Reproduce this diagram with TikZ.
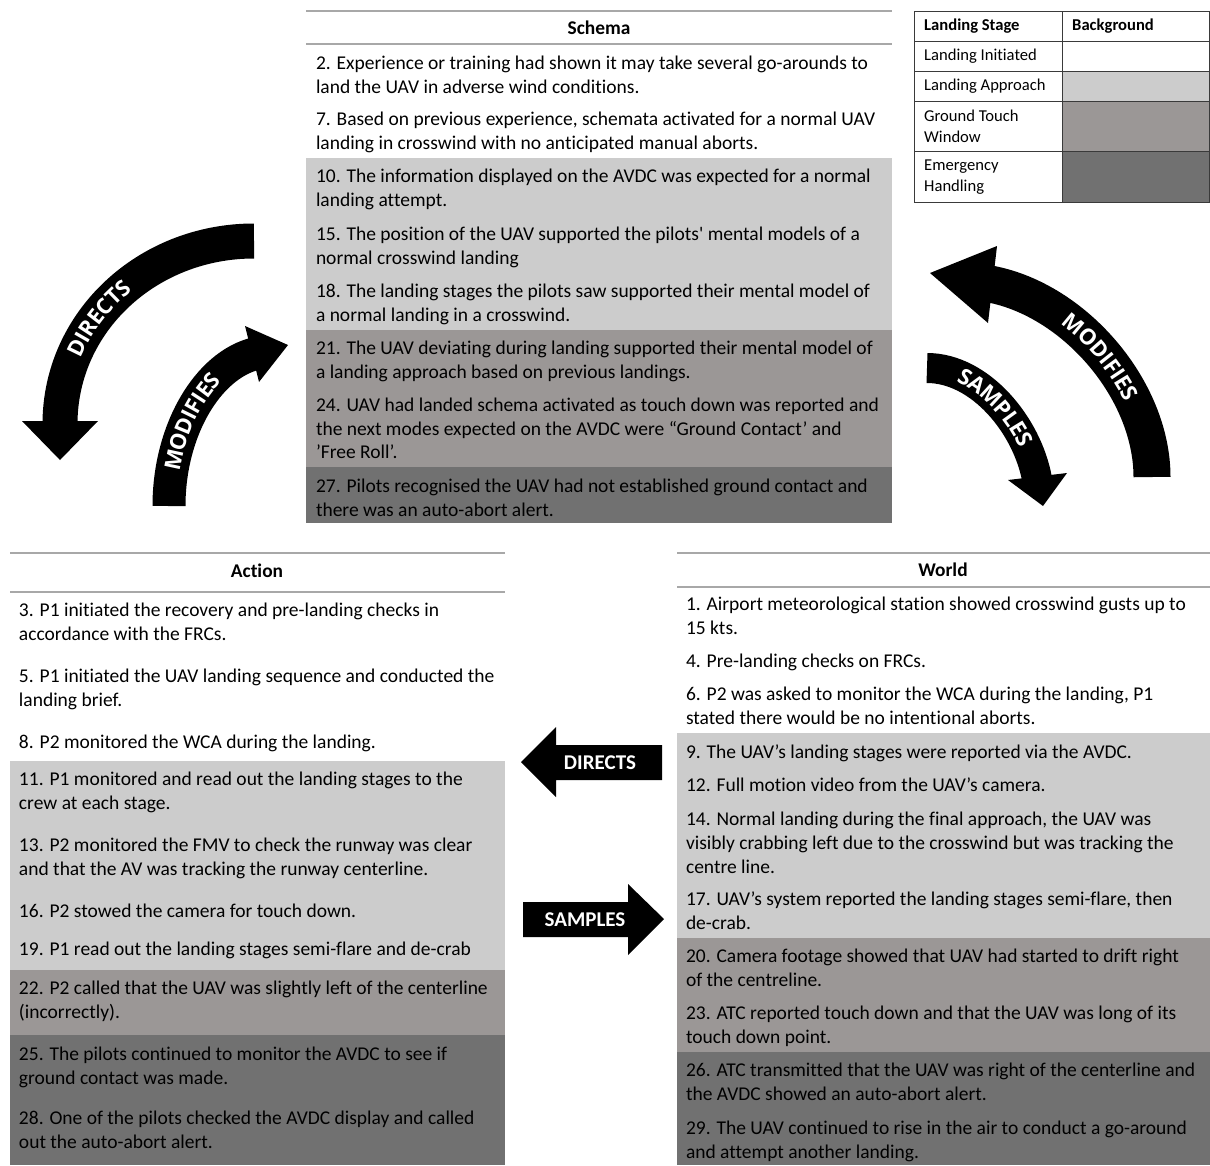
\documentclass[tikz,border=0pt]{standalone}
\usepackage{fontspec}
\setmainfont{Carlito}[Ligatures={TeX,NoCommon}]
\newfontfamily\arrowfont{Open Sans}
\usetikzlibrary{decorations.text}

\definecolor{stageA}{HTML}{CCCCCC}
\definecolor{stageB}{HTML}{9B9796}
\definecolor{stageC}{HTML}{717171}
\definecolor{rulegray}{HTML}{A8A8A8}
\definecolor{legendline}{HTML}{3A3A3A}

% white lettering on the curved arrows
\newcommand\curvefont{\color{white}\arrowfont\bfseries\fontsize{22}{22}\selectfont}
% one numbered statement of a panel
\newcommand\stagetext[4]{\node[para] (#1) at (#2,#3) {\strut#4};}

\begin{document}
\begin{tikzpicture}[x=1pt,y=-1pt,
  para/.style={anchor=north west, inner sep=0pt, outer sep=0pt, align=left,
    yshift=9pt, font=\fontsize{19.5}{23.7}\selectfont, text=black},
  panelhead/.style={inner sep=0pt, font=\bfseries\fontsize{19.4}{23.7}\selectfont},
  legtext/.style={anchor=west, inner sep=0pt, align=left,
    font=\fontsize{16.6}{20.8}\selectfont},
  leghead/.style={legtext, font=\bfseries\fontsize{16.6}{20.8}\selectfont},
  panelrule/.style={draw=rulegray, line width=1.5pt},
  shaft/.style={draw=black, line cap=butt},
  blocklabel/.style={inner sep=0pt, text=white, font=\bfseries\fontsize{21}{21}\selectfont},
  curvelabel/.style={decorate, decoration={text along path, raise=-7.8pt}},
]
\useasboundingbox (0,0) rectangle (1210,1165);
\fill[white] (0,0) rectangle (1210,1165);

% ---------------- Schema panel ----------------
\fill[stageA] (306,158) rectangle (892,330);
\fill[stageB] (306,330) rectangle (892,467);
\fill[stageC] (306,467) rectangle (892,523);
\draw[panelrule] (306,11) -- (892,11);
\draw[panelrule] (306,44) -- (892,44);
\node[panelhead] (schemahead) at (599,28) {Schema};
\stagetext{s2}{316}{62}{2. Experience or training had shown it may take several go-arounds to\\land the UAV in adverse wind conditions.}
\stagetext{s7}{316}{118}{7. Based on previous experience, schemata activated for a normal UAV\\landing in crosswind with no anticipated manual aborts.}
\stagetext{s10}{316}{175}{10. The information displayed on the AVDC was expected for a normal\\landing attempt.}
\stagetext{s15}{316}{233}{15. The position of the UAV supported the pilots\textquotesingle{} mental models of a\\normal crosswind landing}
\stagetext{s18}{316}{290}{18. The landing stages the pilots saw supported their mental model of\\a normal landing in a crosswind.}
\stagetext{s21}{316}{347}{21. The UAV deviating during landing supported their mental model of\\a landing approach based on previous landings.}
\stagetext{s24}{316}{404}{24. UAV had landed schema activated as touch down was reported and\\the next modes expected on the AVDC were “Ground Contact’ and\\’Free Roll’.}
\stagetext{s27}{316}{485}{27. Pilots recognised the UAV had not established ground contact and\\there was an auto-abort alert.}

% ---------------- Legend ----------------
\fill[stageA] (1062,71) rectangle (1209,101);
\fill[stageB] (1062,101) rectangle (1209,151);
\fill[stageC] (1062,151) rectangle (1209,202);
\draw[legendline, line width=1pt] (914,11) rectangle (1209,202);
\foreach \yy in {41,71,101,151} \draw[legendline, line width=1pt] (914,\yy) -- (1209,\yy);
\draw[legendline, line width=1pt] (1062,11) -- (1062,202);
\node[leghead] (legstage) at (924,26) {Landing Stage};
\node[leghead] (legback) at (1072,26) {Background};
\node[legtext] (leginit) at (924,56) {Landing Initiated};
\node[legtext] (legappr) at (924,86) {Landing Approach};
\node[legtext] (legtouch) at (924,126) {Ground Touch\\Window};
\node[legtext] (legemerg) at (924,177) {Emergency\\Handling};

% ---------------- Action panel ----------------
\fill[stageA] (10,761) rectangle (505,970);
\fill[stageB] (10,970) rectangle (505,1035);
\fill[stageC] (10,1035) rectangle (505,1165);
\draw[panelrule] (10,553) -- (505,553);
\draw[panelrule] (10,592) -- (505,592);
\node[panelhead] (actionhead) at (257,571) {Action};
\stagetext{a3}{19}{609}{3. P1 initiated the recovery and pre-landing checks in\\accordance with the FRCs.}
\stagetext{a5}{19}{675}{5. P1 initiated the UAV landing sequence and conducted the\\landing brief.}
\stagetext{a8}{19}{741}{8. P2 monitored the WCA during the landing.}
\stagetext{a11}{19}{778}{11. P1 monitored and read out the landing stages to the\\crew at each stage.}
\stagetext{a13}{19}{844}{13. P2 monitored the FMV to check the runway was clear\\and that the AV was tracking the runway centerline.}
\stagetext{a16}{19}{910}{16. P2 stowed the camera for touch down.}
\stagetext{a19}{19}{948}{19. P1 read out the landing stages semi-flare and de-crab}
\stagetext{a22}{19}{987}{22. P2 called that the UAV was slightly left of the centerline\\(incorrectly).}
\stagetext{a25}{19}{1053}{25. The pilots continued to monitor the AVDC to see if\\ground contact was made.}
\stagetext{a28}{19}{1117}{28. One of the pilots checked the AVDC display and called\\out the auto-abort alert.}

% ---------------- World panel ----------------
\fill[stageA] (677,733) rectangle (1210,938);
\fill[stageB] (677,938) rectangle (1210,1052);
\fill[stageC] (677,1052) rectangle (1210,1165);
\draw[panelrule] (677,553) -- (1210,553);
\draw[panelrule] (677,587) -- (1210,587);
\node[panelhead] (worldhead) at (943,570) {World};
\stagetext{w1}{686}{603}{1. Airport meteorological station showed crosswind gusts up to\\15 kts.}
\stagetext{w4}{686}{660}{4. Pre-landing checks on FRCs.}
\stagetext{w6}{686}{693}{6. P2 was asked to monitor the WCA during the landing, P1\\stated there would be no intentional aborts.}
\stagetext{w9}{686}{751}{9. The UAV’s landing stages were reported via the AVDC.}
\stagetext{w12}{686}{784}{12. Full motion video from the UAV’s camera.}
\stagetext{w14}{686}{818}{14. Normal landing during the final approach, the UAV was\\visibly crabbing left due to the crosswind but was tracking the\\centre line.}
\stagetext{w17}{686}{898}{17. UAV’s system reported the landing stages semi-flare, then\\de-crab.}
\stagetext{w20}{686}{955}{20. Camera footage showed that UAV had started to drift right\\of the centreline.}
\stagetext{w23}{686}{1012}{23. ATC reported touch down and that the UAV was long of its\\touch down point.}
\stagetext{w26}{686}{1069}{26. ATC transmitted that the UAV was right of the centerline and\\the AVDC showed an auto-abort alert.}
\stagetext{w29}{686}{1127}{29. The UAV continued to rise in the air to conduct a go-around\\and attempt another landing.}

% ---------------- Straight block arrows ----------------
\fill[black] (662,745) -- (556,745) -- (556,727) -- (521,762) -- (556,797) -- (556,780) -- (662,780) -- cycle;
\node[blocklabel] (directslabel) at (600,763) {DIRECTS};
\fill[black] (523,902) -- (628,902) -- (628,884) -- (664,919) -- (628,955) -- (628,937) -- (523,937) -- cycle;
\node[blocklabel] (sampleslabel) at (585,920) {SAMPLES};

% ---------------- Curved arrows ----------------
% Schema directs action (left, large)
\draw[shaft, line width=35pt] (254,241) .. controls (147,241) and (60,322) .. (60,424);
\fill[black] (22,421) -- (60,460) -- (98,421) -- cycle;
\path[curvelabel, decoration={text={|\curvefont|DIRECTS}, text align={left, left indent=68pt}}]
  (60,421) .. controls (60,322) and (147,241) .. (254,241);

% Action modifies schema (left, small)
\draw[shaft, line width=33pt] (169,506) .. controls (169,430) and (208,365) .. (256,353.5);
\fill[black] (245,326) -- (288,345) -- (259,382) -- cycle;
\path[curvelabel, decoration={text={|\curvefont|MODIFIES}, text align={left, left indent=36pt}}]
  (169,506) .. controls (169,430) and (208,365) .. (254,354);

% World modifies schema (right, large)
\draw[shaft, line width=37pt] (1152,477) .. controls (1152,390) and (1075,300) .. (990,284);
\fill[black] (997,246) -- (930,273) -- (988,323) -- cycle;
\path[curvelabel, decoration={text={|\curvefont|MODIFIES}, text align={center}}]
  (992,284) .. controls (1075,300) and (1152,390) .. (1152,477);

% Schema samples world (right, small)
\draw[shaft, line width=30pt] (927,368) .. controls (980,368) and (1027,425) .. (1037,479);
\fill[black] (1008,480) -- (1043,506) -- (1067,473) -- cycle;
\path[curvelabel, decoration={text={|\curvefont|SAMPLES}, text align={center}}]
  (927,368) .. controls (980,368) and (1027,425) .. (1037,477);
\end{tikzpicture}
\end{document}
